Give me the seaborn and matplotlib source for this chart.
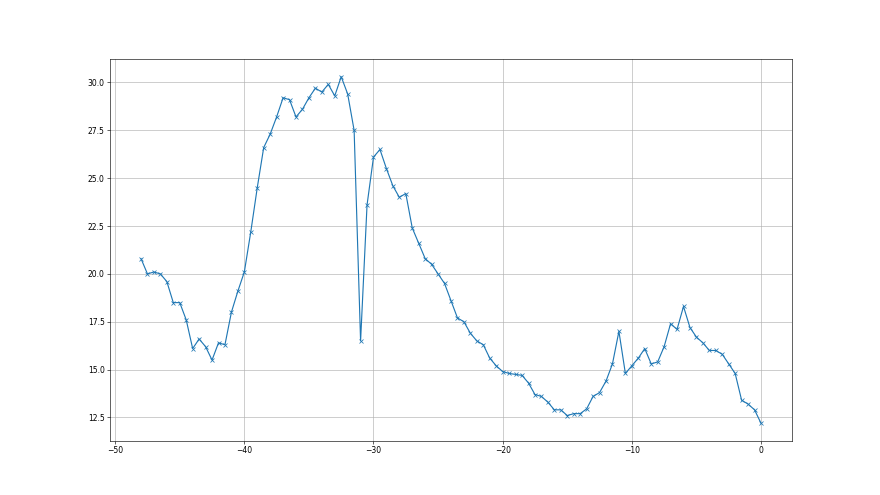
import matplotlib
matplotlib.use("Agg")
import matplotlib.pyplot as plt
import seaborn as sns
import numpy as np
import pandas as pd

# x runs from -48 to 0 in steps of 0.5
x_start = -48.0
x_step = 0.5

values = [
    20.8, 20.0, 20.1, 20.0, 19.6, 18.5, 18.5, 17.6, 16.1, 16.6,
    16.2, 15.5, 16.4, 16.3, 18.0, 19.1, 20.1, 22.2, 24.5, 26.6,
    27.3, 28.2, 29.2, 29.1, 28.2, 28.6, 29.2, 29.7, 29.5, 29.9,
    29.3, 30.3, 29.4, 27.5, 16.5, 23.6, 26.1, 26.5, 25.5, 24.6,
    24.0, 24.2, 22.4, 21.6, 20.8, 20.5, 20.0, 19.5, 18.6, 17.7,
    17.5, 16.9, 16.5, 16.3, 15.6, 15.2, 14.9, 14.8, 14.75, 14.7,
    14.3, 13.7, 13.6, 13.3, 12.9, 12.9, 12.6, 12.7, 12.7, 12.95,
    13.6, 13.8, 14.4, 15.3, 17.0, 14.8, 15.2, 15.6, 16.1, 15.3,
    15.4, 16.2, 17.4, 17.1, 18.3, 17.2, 16.7, 16.4, 16.0, 16.0,
    15.8, 15.3, 14.8, 13.4, 13.2, 12.9, 12.2,
]

df = pd.DataFrame({
    "x": x_start + x_step * np.arange(len(values)),
    "y": values,
})

fig, ax = plt.subplots(figsize=(16, 9), dpi=55)
sns.lineplot(data=df, x="x", y="y", marker="x", color="tab:blue",
             markeredgecolor="tab:blue", markeredgewidth=1.0, markersize=6, ax=ax)

ax.set_xlabel("")
ax.set_ylabel("")
ax.grid(True)
fig.savefig("out.png", dpi=55)
